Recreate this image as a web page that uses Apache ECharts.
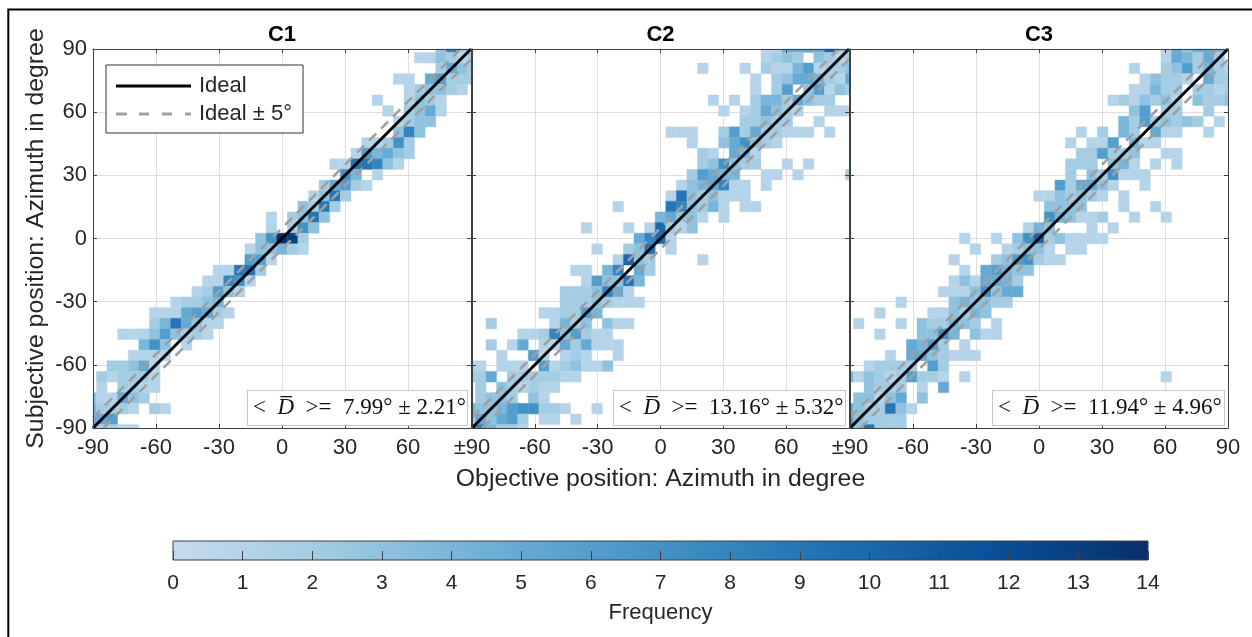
<!DOCTYPE html>
<html>
<head>
<meta charset="utf-8">
<script src="https://cdn.jsdelivr.net/npm/echarts@6/dist/echarts.min.js"></script>
<style>
	html, body { margin: 0; padding: 0; background: #fff; overflow: hidden; }
	#main { width: 1252px; height: 637px; }
</style>
</head>
<body>
<div id="main"></div>
<script>
// each row: [y, x, count, x, count, ...]
var c1Rows = [
	[90, 75,3, 80,8, 85,2],
	[85, 65,1, 70,1, 75,3, 80,2, 85,1, 90,2],
	[80, 75,2, 80,5, 85,3, 90,2],
	[75, 55,1, 60,1, 70,5, 75,6, 80,2, 85,2, 90,2],
	[70, 60,1, 65,2, 70,3, 75,3, 80,2, 85,1],
	[65, 45,1, 60,1, 65,3, 70,2, 75,1],
	[60, 50,1, 60,2, 65,3, 70,5, 75,1],
	[55, 55,1, 60,2, 65,3, 70,3],
	[50, 55,3, 60,8, 65,3],
	[45, 40,1, 45,1, 50,2, 55,7, 60,2],
	[40, 35,1, 40,6, 45,4, 50,5, 55,3, 60,2],
	[35, 25,1, 30,1, 35,9, 40,9, 45,8, 50,3, 55,1],
	[30, 30,7, 35,4, 45,1],
	[25, 20,2, 25,5, 30,6, 35,2, 40,1],
	[20, 15,1, 20,3, 25,9, 30,2],
	[15, 10,3, 15,2, 20,9, 25,2],
	[10, -5,1, 5,2, 10,3, 15,9, 20,3],
	[5, -5,1, 5,2, 10,7, 15,3],
	[0, -10,3, -5,7, 0,14, 5,13, 10,2],
	[-5, -15,1, -10,3, -5,3, 0,4, 5,2, 10,1],
	[-10, -15,6, -10,6, -5,1],
	[-15, -30,1, -25,1, -20,9, -15,9, -10,2],
	[-20, -35,1, -30,1, -25,8, -20,7, -15,1],
	[-25, -40,1, -35,2, -30,6, -25,3, -20,1],
	[-30, -50,1, -45,2, -40,2, -35,3, -30,4],
	[-35, -60,1, -55,1, -50,1, -45,5, -40,6, -35,5, -30,2, -25,1],
	[-40, -60,2, -55,4, -50,9, -45,5, -40,3, -35,1, -30,1],
	[-45, -75,1, -70,1, -65,1, -60,3, -55,6, -50,3, -45,2, -40,2, -35,1],
	[-50, -65,4, -60,7, -55,3, -45,1],
	[-55, -70,1, -65,1, -60,1, -55,1],
	[-60, -80,2, -75,2, -70,3, -65,5, -60,1],
	[-65, -85,2, -80,1, -75,2, -70,2, -65,2, -60,1],
	[-70, -85,1, -75,2, -70,2, -65,1, -60,1],
	[-75, -90,3, -85,1, -80,1, -75,5, -70,3, -65,2],
	[-80, -90,4, -85,2, -80,2, -75,2, -70,1, -60,2, -55,1],
	[-85, -90,5, -85,5, -80,6],
	[-90, -90,7, -85,2, -80,2, -75,1, -70,1]
];

var c2Rows = [
	[90, 50,1, 55,1, 60,5, 65,5, 70,5, 75,5, 80,10, 85,3],
	[85, 50,1, 55,2, 60,3, 65,2, 75,3, 80,2, 85,1, 90,2],
	[80, 20,1, 40,1, 50,2, 55,1, 60,1, 65,4, 70,6, 75,1, 80,2, 85,2, 90,3],
	[75, 45,1, 55,2, 60,3, 65,5, 70,5, 75,4, 80,2, 85,1, 90,5],
	[70, 45,1, 55,2, 60,6, 70,3, 75,6, 80,1, 85,3, 90,2],
	[65, 25,1, 35,1, 45,2, 50,4, 55,4, 60,2, 65,5, 70,3, 75,2, 80,2],
	[60, 30,1, 40,1, 45,2, 50,5, 55,3, 60,2, 65,1, 80,1, 85,1, 90,1],
	[55, 40,2, 45,2, 50,3, 55,2, 60,2, 75,1],
	[50, 5,1, 10,1, 15,1, 30,2, 35,6, 40,2, 45,5, 50,2, 55,2, 60,1, 65,1, 70,1, 80,1],
	[45, 15,1, 30,3, 35,5, 40,7, 45,3, 50,2, 55,1],
	[40, 20,2, 25,1, 35,5, 40,4, 45,1],
	[35, 20,2, 25,3, 30,7, 35,3, 40,2, 45,2, 60,1, 70,1],
	[30, 15,2, 20,6, 25,5, 30,4, 35,4, 50,1, 55,1, 65,1, 90,2],
	[25, 10,1, 15,3, 20,4, 25,5, 30,8, 35,1, 40,1, 50,1],
	[20, 5,1, 10,9, 15,3, 20,2, 25,3, 30,1, 35,1, 40,1],
	[15, -20,1, 5,9, 10,8, 15,3, 20,2, 25,4, 30,1, 40,1, 45,1],
	[10, 0,4, 5,5, 10,3, 15,3, 20,1, 30,1],
	[5, -35,1, -15,1, -5,1, 0,10, 5,2, 10,1, 15,3],
	[0, -10,5, -5,8, 0,10, 5,1],
	[-5, -30,1, -15,2, -10,3, -5,9, 5,1],
	[-10, -20,1, -15,10, -10,3, -5,2, 20,1],
	[-15, -40,1, -35,1, -25,4, -20,8, -10,5, -5,2],
	[-20, -35,1, -30,6, -25,3, -20,3, -15,9, -10,4],
	[-25, -45,2, -40,2, -35,2, -30,3, -25,8, -20,5, -15,1],
	[-30, -45,2, -40,2, -35,2, -30,3, -25,2, -20,1, -15,1, -10,1],
	[-35, -55,1, -50,1, -45,2, -40,2, -35,6, -30,4],
	[-40, -80,2, -50,1, -45,4, -40,2, -35,3, -25,3, -20,1, -15,1],
	[-45, -65,1, -60,1, -55,2, -50,8, -45,3, -40,6, -35,2, -30,1, -25,1],
	[-50, -80,2, -70,1, -65,5, -55,1, -50,1, -45,5, -40,2, -35,5, -30,1, -25,1, -20,1],
	[-55, -75,1, -60,6, -55,1, -45,1, -40,2, -35,1, -20,1],
	[-60, -90,1, -85,1, -75,1, -70,1, -65,1, -55,6, -50,1, -45,2, -40,3, -35,1, -30,1, -25,3],
	[-65, -90,2, -85,2, -80,5, -70,2, -65,2, -60,2, -55,2, -50,2, -45,1, -40,1],
	[-70, -85,2, -75,3, -70,2, -65,1, -60,2, -55,1, -50,1],
	[-75, -85,2, -80,3, -75,3, -70,2, -60,3, -55,1],
	[-80, -90,4, -85,3, -80,3, -75,4, -70,6, -65,7, -60,7, -55,2, -50,2, -45,1, -30,1],
	[-85, -90,2, -85,5, -80,3, -75,5, -70,6, -65,2, -55,1, -50,1, -40,1],
	[-90, -90,11, -85,8, -80,4, -75,2, -70,2, -65,1]
];

var c3Rows = [
	[90, 60,1, 65,5, 70,3, 75,5, 80,5, 85,4],
	[85, 60,1, 65,5, 70,4, 75,2, 80,5, 85,2],
	[80, 45,1, 60,2, 65,3, 70,6, 75,2, 80,4, 85,2, 90,1],
	[75, 50,1, 55,3, 60,2, 65,2, 70,1, 80,5, 85,2, 90,2],
	[70, 45,1, 50,1, 55,4, 60,2, 65,2, 75,2, 80,2, 85,1, 90,2],
	[65, 35,1, 40,2, 45,1, 50,3, 55,2, 60,3, 65,1, 75,3, 80,2, 85,2, 90,3],
	[60, 45,3, 50,6, 60,2, 65,2, 80,2],
	[55, 40,4, 45,2, 50,6, 55,2, 60,3, 65,2, 70,3, 75,2, 85,1],
	[50, 20,1, 30,2, 40,4, 45,2, 55,5, 60,1, 65,1, 80,1],
	[45, 15,1, 25,1, 30,1, 35,6, 45,4, 50,1, 55,1],
	[40, 20,2, 25,2, 30,6, 35,2, 40,2, 45,3, 60,1, 65,1],
	[35, 15,2, 20,2, 25,2, 35,3, 40,4, 45,1, 55,1, 65,1],
	[30, 15,2, 25,3, 30,2, 35,7, 40,1, 45,1, 50,1],
	[25, 10,6, 15,2, 20,5, 25,5, 30,3, 35,1, 50,1],
	[20, 0,1, 5,1, 10,3, 15,2, 20,3, 25,2, 30,1, 40,1],
	[15, 5,3, 10,3, 15,3, 20,3, 40,1, 55,1],
	[10, 5,7, 10,4, 15,3, 20,1, 25,1, 30,2, 45,1, 60,1],
	[5, -5,1, 0,4, 5,3, 25,1, 35,1],
	[0, -35,1, -20,1, -10,3, -5,7, 0,10, 5,2, 10,3, 15,1, 20,1, 25,1, 30,1],
	[-5, -30,1, -15,1, -10,2, -5,3, 0,3, 5,1, 15,1, 20,1],
	[-10, -40,1, -20,2, -15,3, -10,6, -5,7, 0,2, 5,1, 10,1],
	[-15, -35,1, -25,5, -20,6, -15,4, -10,3, -5,3],
	[-20, -40,1, -35,3, -30,1, -25,5, -20,5, -15,4, -10,2],
	[-25, -45,1, -40,1, -35,1, -30,3, -25,7, -20,3, -15,5, -10,5],
	[-30, -65,1, -40,3, -35,4, -30,3, -25,3, -20,2, -15,2],
	[-35, -75,1, -50,1, -45,1, -40,3, -35,2, -30,4, -25,3],
	[-40, -85,1, -65,1, -55,3, -50,2, -45,2, -40,4, -35,3, -30,2, -20,1],
	[-45, -75,1, -55,3, -50,3, -45,7, -40,4, -30,3, -25,1, -20,1],
	[-50, -60,5, -55,4, -50,6, -45,2, -35,1],
	[-55, -70,1, -60,5, -55,5, -50,3, -45,2, -40,1, -35,1, -30,1],
	[-60, -80,1, -75,2, -70,2, -65,2, -60,2, -50,6, -45,2],
	[-65, -90,4, -85,1, -80,3, -75,2, -70,1, -65,2, -60,6, -55,2, -50,2, -45,1, -35,1, 60,1],
	[-70, -80,3, -75,2, -70,2, -65,2, -55,1, -45,5],
	[-75, -85,3, -80,3, -75,1, -70,3, -65,5, -55,3],
	[-80, -90,5, -85,3, -80,2, -75,2, -70,9, -65,3, -60,1],
	[-85, -90,6, -85,3, -80,2, -75,2, -70,2, -65,2],
	[-90, -90,9, -85,3, -80,9, -75,2, -70,2, -65,2]
];

var panelNames = ['C1', 'C2', 'C3'];
var meanDev = ['7.99', '13.16', '11.94'];
var stdDev = ['2.21', '5.32', '4.96'];
var freqRange = [0, 14];
var rampValues = [0, 2.33, 4.67, 7, 9.33, 11.67, 14];
var rampColors = ['#c6dbef', '#9ecae1', '#6baed6', '#4292c6', '#2171b5', '#08519c', '#08306b'];
var idealLine = [[-90, -90], [90, 90]];
var upperLine = [[-90, -85], [85, 90]];
var lowerLine = [[-85, -90], [90, 85]];

var FONT = '"Liberation Sans", Arial, sans-serif';
var TEXT = '#262626';
var AXIS = '#404040';
// the image cells come out a touch wider than 5 degrees in the original
var BIN = 5.05;
var BIN_SCALE = BIN / 5;

function toCells(rows) {
	var cells = [];
	rows.forEach(function(row) {
		for (var i = 1; i < row.length; i += 2) {
			cells.push([row[i], row[0], row[i + 1]]);
		}
	});
	return cells;
}

function renderCell(params, api) {
	var topLeft = api.coord([api.value(0) * BIN_SCALE - BIN / 2, api.value(1) * BIN_SCALE + BIN / 2]);
	var size = api.size([BIN, BIN]);
	var shape = echarts.graphic.clipRectByRect({
		x: topLeft[0], y: topLeft[1], width: size[0], height: size[1]
	}, params.coordSys);
	if (!shape) return null;
	var color = api.visual('color');
	// thin same-colour stroke closes the antialiasing seams between cells
	return { type: 'rect', shape: shape, style: { fill: color, stroke: color, lineWidth: 0.4 } };
}

function renderRamp(params, api) {
	var start = api.coord([api.value(0), 0]);
	var end = api.coord([api.value(1), 1]);
	var max = rampValues[rampValues.length - 1];
	return {
		type: 'rect',
		shape: { x: start[0], y: end[1], width: end[0] - start[0], height: start[1] - end[1] },
		style: {
			stroke: AXIS,
			lineWidth: 1,
			fill: new echarts.graphic.LinearGradient(0, 0, 1, 0, rampValues.map(function(v, i) {
				return { offset: v / max, color: rampColors[i] };
			}))
		}
	};
}

var grids = [
	{ left: 93, top: 49, width: 378, height: 379 },
	{ left: 472, top: 49, width: 377, height: 379 },
	{ left: 850, top: 49, width: 378, height: 379 },
	{ left: 173, top: 541, width: 975, height: 19 }
];

var xAxes = [], yAxes = [], series = [], titles = [], graphics = [];

[c1Rows, c2Rows, c3Rows].forEach(function(rows, p) {
	var bottomLabel = function(v) {
		if (v === 90 && p < 2) return '';
		if (v === -90 && p > 0) return '\u00b190';
		return String(v);
	};
	var frame = {
		type: 'value', gridIndex: p, min: -90, max: 90, interval: 30, z: 5,
		axisLine: { show: true, onZero: false, lineStyle: { color: AXIS, width: 1 } },
		axisTick: { show: true, inside: true, length: 4, lineStyle: { color: AXIS, width: 1 } },
		splitLine: { show: false },
		axisLabel: { show: false }
	};
	// third axis of each direction only carries the grid lines, under the cells
	var gridOnly = {
		type: 'value', gridIndex: p, min: -90, max: 90, interval: 30, z: 0,
		axisLine: { show: false, onZero: false },
		axisTick: { show: false },
		axisLabel: { show: false },
		splitLine: { show: true, lineStyle: { color: '#dedede', width: 1 } }
	};
	xAxes.push(Object.assign({}, frame, {
		position: 'bottom',
		axisLabel: { show: true, color: TEXT, fontFamily: FONT, fontSize: 22, margin: 9, formatter: bottomLabel }
	}, p === 1 ? {
		name: 'Objective position: Azimuth in degree',
		nameLocation: 'middle', nameGap: 39,
		nameTextStyle: { color: TEXT, fontFamily: FONT, fontSize: 24.8 }
	} : {}));
	xAxes.push(Object.assign({}, frame, { position: 'top' }));
	xAxes.push(Object.assign({}, gridOnly, { position: 'bottom' }));

	yAxes.push(Object.assign({}, frame, {
		position: 'left',
		axisLabel: { show: p === 0, color: TEXT, fontFamily: FONT, fontSize: 22, margin: 6 }
	}, p === 0 ? {
		name: 'Subjective position: Azimuth in degree',
		nameLocation: 'middle', nameGap: 44, nameRotate: 90,
		nameTextStyle: { color: TEXT, fontFamily: FONT, fontSize: 24.8 }
	} : {}));
	yAxes.push(Object.assign({}, frame, { position: 'right' }));
	yAxes.push(Object.assign({}, gridOnly, { position: 'left' }));

	series.push({
		id: 'cells' + p,
		type: 'custom',
		xAxisIndex: p * 3,
		yAxisIndex: p * 3,
		renderItem: renderCell,
		encode: { x: 0, y: 1 },
		data: toCells(rows),
		z: 2
	});
	[['Ideal \u00b1 5\u00b0', upperLine], ['Ideal \u00b1 5\u00b0', lowerLine], ['Ideal', idealLine]].forEach(function(item) {
		var solid = item[0] === 'Ideal';
		var color = solid ? '#000' : '#a0a0a0';
		series.push({
			name: item[0],
			type: 'line',
			xAxisIndex: p * 3,
			yAxisIndex: p * 3,
			data: item[1],
			showSymbol: false,
			symbol: 'none',
			clip: true,
			silent: true,
			z: solid ? 4 : 3,
			itemStyle: { color: color },
			lineStyle: solid ? { color: color, width: 3 } : { color: color, width: 2.6, type: [10, 7] }
		});
	});

	titles.push({
		text: panelNames[p],
		left: grids[p].left + grids[p].width / 2,
		top: 24,
		padding: 0,
		textAlign: 'center',
		textStyle: { color: '#000', fontFamily: FONT, fontSize: 22, fontWeight: 'bold' }
	});

	// mean deviation box, right aligned in each panel
	var boxRight = grids[p].left + grids[p].width - 4;
	var boxWidth = p === 0 ? 219 : 231;
	graphics.push({
		type: 'text',
		z: 20,
		x: boxRight - boxWidth,
		y: 391,
		style: {
			text: '<  {d|D\u0305}  >=  ' + meanDev[p] + '\u00b0 \u00b1 ' + stdDev[p] + '\u00b0',
			width: boxWidth - 5,
			height: 34,
			lineHeight: 34,
			align: 'left',
			fontFamily: '"Liberation Serif", serif',
			fontSize: 23,
			fill: '#111',
			backgroundColor: '#fff',
			borderColor: '#c8c8c8',
			borderWidth: 1,
			padding: [0, 0, 0, 5],
			rich: { d: { fontFamily: '"Liberation Serif", serif', fontStyle: 'italic', fontSize: 23, fill: '#111' } }
		}
	});
});

// colorbar
xAxes.push({
	type: 'value', gridIndex: 3, min: freqRange[0], max: freqRange[1], interval: 1, z: 5,
	position: 'bottom',
	axisLine: { show: false, onZero: false },
	splitLine: { show: false },
	axisTick: { show: true, inside: true, length: 9, lineStyle: { color: AXIS, width: 1 } },
	axisLabel: { color: TEXT, fontFamily: FONT, fontSize: 21, margin: 13 },
	name: 'Frequency', nameLocation: 'middle', nameGap: 42,
	nameTextStyle: { color: TEXT, fontFamily: FONT, fontSize: 22 }
});
yAxes.push({
	type: 'value', gridIndex: 3, min: 0, max: 1,
	axisLine: { show: false, onZero: false }, axisTick: { show: false }, axisLabel: { show: false }, splitLine: { show: false }
});
series.push({
	id: 'ramp',
	type: 'custom',
	xAxisIndex: 9,
	yAxisIndex: 9,
	renderItem: renderRamp,
	data: [freqRange],
	silent: true,
	z: 1
});

// page frame: left and top edges only
graphics.push({
	type: 'polyline',
	z: 30,
	silent: true,
	shape: { points: [[8.3, 637], [8.3, 9.5], [1252, 9.5]] },
	style: { fill: 'none', stroke: '#000', lineWidth: 2 }
});

var chart = echarts.init(document.getElementById('main'), null, { renderer: 'canvas' });
chart.setOption({
	animation: false,
	backgroundColor: '#fff',
	title: titles,
	grid: grids,
	xAxis: xAxes,
	yAxis: yAxes,
	visualMap: {
		show: false,
		type: 'continuous',
		seriesIndex: [0, 4, 8],
		dimension: 2,
		min: 0,
		max: 14,
		inRange: { color: rampColors }
	},
	legend: {
		data: [
			{ name: 'Ideal', icon: 'path://M0 0h75v3h-75z', itemStyle: { color: '#000' } },
			{ name: 'Ideal \u00b1 5\u00b0', icon: 'path://M0 0h11v3h-11zM23 0h10v3h-10zM46 0h10v3h-10zM69 0h6v3h-6z', itemStyle: { color: '#a0a0a0' } }
		],
		orient: 'vertical',
		left: 106,
		top: 65,
		itemWidth: 75,
		itemHeight: 3,
		itemGap: 6,
		padding: [10, 11, 8, 10],
		backgroundColor: '#fff',
		borderColor: '#333',
		borderWidth: 1,
		borderRadius: 0,
		selectedMode: false,
		z: 10,
		textStyle: { color: TEXT, fontFamily: FONT, fontSize: 22, padding: [0, 0, 0, 3] }
	},
	graphic: graphics,
	series: series
});
</script>
</body>
</html>
